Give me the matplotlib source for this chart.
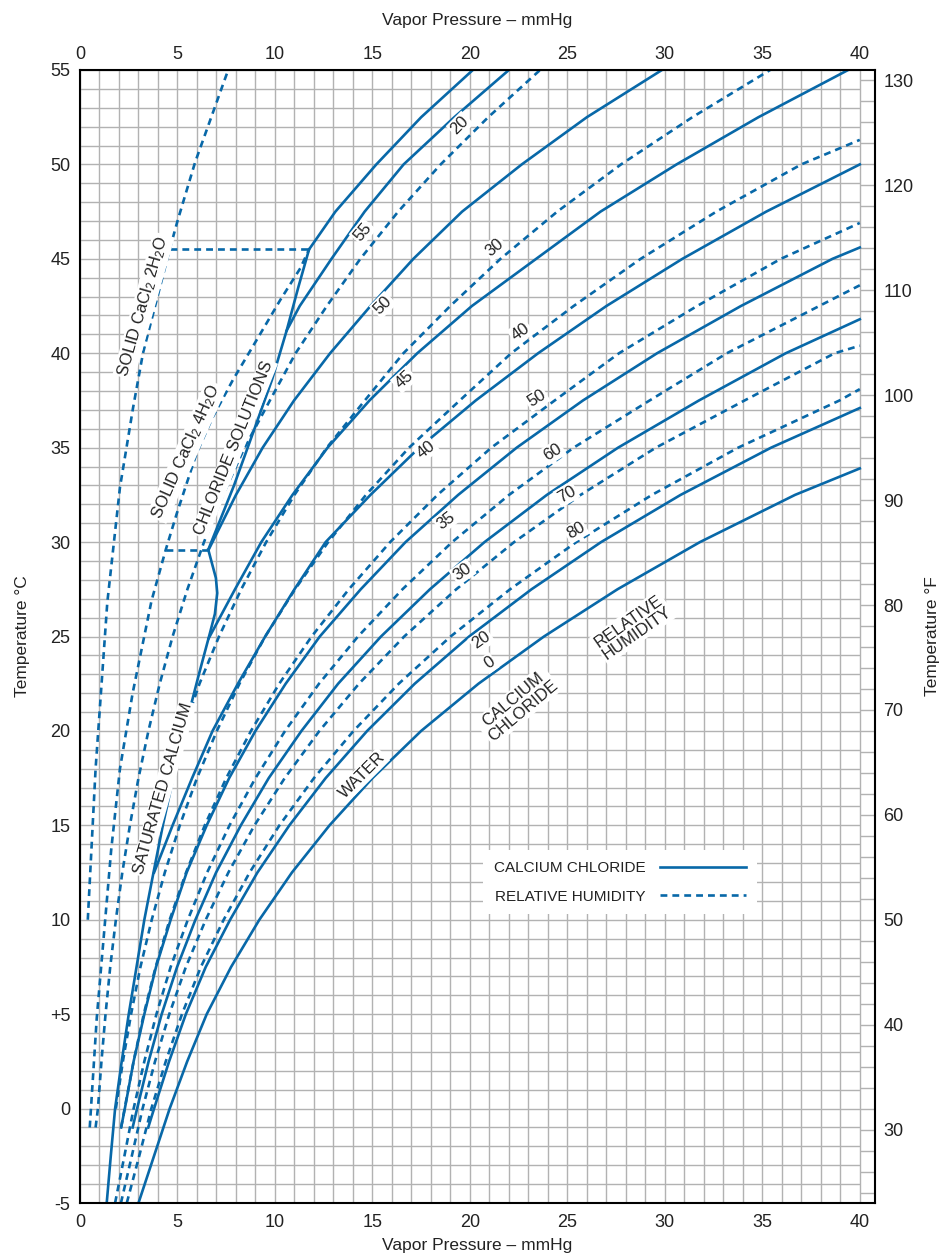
import numpy as np
import matplotlib.pyplot as plt
from matplotlib.lines import Line2D

plt.rcParams['font.family'] = ['Liberation Sans', 'DejaVu Sans']
plt.rcParams['mathtext.fontset'] = 'custom'
plt.rcParams['mathtext.rm'] = 'Liberation Sans'
plt.rcParams['mathtext.it'] = 'Liberation Sans'

BLUE = '#0868a8'
GRID = '#b2b2b2'
DASH = (0, (2.6, 1.9))

# ---- data: (vapor pressure mmHg, temperature C) ----
# water (0 % calcium chloride)
water_T = [-5, -2.5, 0, 2.5, 5, 7.5, 10, 12.5, 15, 17.5, 20, 22.5, 25, 27.5, 30, 32.5, 33.9]
water_P = [3.0, 3.8, 4.6, 5.5, 6.5, 7.75, 9.2, 10.87, 12.8, 15.0, 17.5, 20.44, 23.8, 27.57, 31.8, 36.68, 40.0]

# calcium chloride solutions, by % CaCl2
cc20_T = [-1, 0, 2.5, 5, 7.5, 10, 12.5, 15, 17.5, 20, 22.5, 25, 27.5, 30, 32.5, 35, 37.1]
cc20_P = [3.5, 3.8, 4.57, 5.43, 6.45, 7.7, 9.1, 10.74, 12.6, 14.73, 17.17, 19.96, 23.16, 26.73, 30.81, 35.45, 40.0]
cc30_T = [-1, 0, 2.5, 5, 7.5, 10, 12.5, 15, 17.5, 20, 22.5, 25, 27.5, 30, 32.5, 35, 37.5, 40, 41.8]
cc30_P = [2.7, 2.93, 3.52, 4.19, 4.98, 5.92, 6.98, 8.25, 9.68, 11.36, 13.24, 15.44, 17.95, 20.75, 23.95, 27.6, 31.75, 36.2, 40.0]
cc35_T = [-1, 0, 2.5, 5, 7.5, 10, 12.5, 15, 17.5, 20, 22.5, 25, 27.5, 30, 32.5, 35, 37.5, 40, 42.5, 45, 45.6]
cc35_P = [2.11, 2.3, 2.75, 3.3, 3.9, 4.65, 5.47, 6.5, 7.65, 9.0, 10.55, 12.3, 14.4, 16.7, 19.4, 22.4, 25.8, 29.6, 33.9, 38.6, 40.0]
cc40_T = [12.5, 15, 17.5, 20, 22.5, 25, 27.5, 30, 32.5, 35, 37.5, 40, 42.5, 45, 47.5, 50]
cc40_P = [3.8, 4.75, 5.75, 6.8, 8.1, 9.5, 11.0, 12.6, 14.9, 17.4, 20.3, 23.5, 27.0, 30.9, 35.2, 40.0]
cc45_T = [24.9, 27.5, 30, 32.5, 35, 37.5, 40, 42.5, 45, 47.5, 50, 52.5, 55]
cc45_P = [6.6, 7.95, 9.3, 10.9, 12.7, 14.85, 17.3, 20.1, 23.4, 26.7, 30.6, 34.8, 39.4]
cc50_T = [29.6, 32.5, 35, 37.5, 40, 42.5, 45, 47.5, 50, 52.5, 55]
cc50_P = [6.6, 8.0, 9.37, 10.98, 12.83, 14.9, 17.1, 19.6, 22.66, 26.0, 29.85]
cc55_T = [41.2, 42.5, 45, 47.5, 50, 52.5, 55]
cc55_P = [10.6, 11.27, 12.9, 14.6, 16.6, 19.2, 22.0]

# saturated calcium chloride solutions
sat_low_T = [-5, -2.5, 0, 2.5, 5, 7.5, 10, 12.5, 15, 17.5, 20, 23, 25.2, 26.2, 27.3, 28.1, 29.6]
sat_low_P = [1.37, 1.58, 1.8, 2.14, 2.5, 2.9, 3.3, 3.77, 4.25, 4.78, 5.35, 6.1, 6.67, 6.92, 7.04, 6.97, 6.58]
sat_mid_T = [29.6, 33, 36, 38.6, 41.2, 43.5, 45.5]
sat_mid_P = [6.58, 7.9, 8.95, 9.85, 10.6, 11.2, 11.75]
sat_top_T = [45.5, 47.5, 50, 52.5, 55]
sat_top_P = [11.75, 13.1, 15.2, 17.5, 20.15]

# relative humidity lines, by % RH
rh20_T = [-1, 0, 2.5, 5, 7.5, 10, 12.5, 15, 17.5, 20, 22.5, 25, 27.5, 30, 32.5, 35, 37.5, 40, 42.5, 45, 47.5, 50, 52.5, 55]
rh20_P = [0.8, 0.92, 1.1, 1.31, 1.55, 1.84, 2.17, 2.56, 3.0, 3.51, 4.09, 4.75, 5.51, 6.36, 7.34, 8.44, 9.74, 11.06, 12.66, 14.38, 16.32, 18.5, 20.94, 23.6]
rh30_T = [20, 22.5, 25, 27.5, 30, 32.5, 35, 37.5, 40, 42.5, 45, 47.5, 50, 52.5, 55]
rh30_P = [5.3, 6.13, 7.13, 8.27, 9.55, 11.0, 12.66, 14.61, 16.59, 18.99, 21.57, 24.48, 27.75, 31.41, 35.4]
rh40_T = [0, 2.5, 5, 7.5, 10, 12.5, 15, 17.5, 20, 22.5, 25, 27.5, 30, 32.5, 35, 37.5, 40, 42.5, 45, 47.5, 50, 51.3]
rh40_P = [1.84, 2.2, 2.62, 3.1, 3.68, 4.35, 5.12, 6.0, 7.02, 8.18, 9.5, 11.03, 12.73, 14.67, 16.88, 19.48, 22.12, 25.32, 28.76, 32.64, 37.0, 40.0]
rh50_T = [-1, 0, 2.5, 5, 7.5, 10, 12.5, 15, 17.5, 20, 22.5, 25, 27.5, 30, 32.5, 35, 37.5, 40, 42.5, 45, 46.9]
rh50_P = [2.11, 2.29, 2.75, 3.27, 3.88, 4.6, 5.44, 6.4, 7.5, 8.77, 10.22, 11.88, 13.79, 15.91, 18.34, 21.1, 24.35, 27.65, 31.65, 35.95, 40.0]
rh60_T = [-5, -2.5, 0, 2.5, 5, 7.5, 10, 12.5, 15, 17.5, 20, 22.5, 25, 27.5, 30, 32.5, 35, 37.5, 40, 43.6]
rh60_P = [1.8, 2.28, 2.75, 3.3, 3.92, 4.65, 5.53, 6.52, 7.67, 9.0, 10.52, 12.26, 14.26, 16.54, 19.09, 22.01, 25.32, 29.22, 33.18, 40.0]
rh70_T = [-5, -2.5, 0, 2.5, 5, 7.5, 10, 12.5, 15, 17.5, 20, 22.5, 25, 27.5, 30, 32.5, 35, 37.5, 40, 40.4]
rh70_P = [2.1, 2.66, 3.21, 3.85, 4.58, 5.43, 6.45, 7.61, 8.95, 10.5, 12.28, 14.31, 16.63, 19.3, 22.27, 25.68, 29.54, 34.09, 38.71, 40.0]
rh80_T = [-5, -2.5, 0, 2.5, 5, 7.5, 10, 12.5, 15, 17.5, 20, 22.5, 25, 27.5, 30, 32.5, 35, 37.5, 38.1]
rh80_P = [2.4, 3.04, 3.66, 4.4, 5.23, 6.2, 7.37, 8.7, 10.23, 12.0, 14.03, 16.35, 19.01, 22.06, 25.46, 29.34, 33.76, 38.96, 40.0]

# solid hydrate lines
solid2_T = [10, 18, 26.8, 32.9, 37.1, 40, 43.5, 45.5, 47, 50.1, 55]
solid2_P = [0.4, 0.8, 1.4, 2.05, 2.72, 3.23, 4.1, 4.6, 5.0, 5.9, 7.6]
solid4_T = [-1, 4.8, 13.7, 18, 22, 26.9, 29.6, 31.5, 34.7, 36.6, 38.6, 40.7, 42.8, 44.5, 45.5]
solid4_P = [0.5, 0.86, 1.6, 2.05, 2.7, 3.67, 4.4, 4.96, 5.98, 6.8, 7.85, 9.06, 10.26, 11.3, 11.75]
step45_T = [45.5, 45.5]
step45_P = [4.6, 11.75]
step30_T = [29.6, 29.6]
step30_P = [4.4, 6.58]

solid_lines = [(water_P, water_T), (cc20_P, cc20_T), (cc30_P, cc30_T), (cc35_P, cc35_T),
               (cc40_P, cc40_T), (cc45_P, cc45_T), (cc50_P, cc50_T), (cc55_P, cc55_T),
               (sat_low_P, sat_low_T), (sat_mid_P, sat_mid_T), (sat_top_P, sat_top_T)]
dashed_lines = [(rh20_P, rh20_T), (rh30_P, rh30_T), (rh40_P, rh40_T), (rh50_P, rh50_T),
                (rh60_P, rh60_T), (rh70_P, rh70_T), (rh80_P, rh80_T),
                (solid2_P, solid2_T), (solid4_P, solid4_T),
                (step45_P, step45_T), (step30_P, step30_T)]

fig = plt.figure(figsize=(9.43, 12.58), dpi=100)
ax = fig.add_axes([80/943, 1 - 1203/1258, 795/943, 1133/1258])
XMAX = 40.78
ax.set_xlim(0, XMAX)
ax.set_ylim(-5, 55)

# grid: 1 mmHg x 1 C, plus a 2 F scale strip on the right
ax.vlines(np.arange(0, 41), -5, 55, color=GRID, lw=1.0, zorder=0)
ax.hlines(np.arange(-5, 56), 0, 40, color=GRID, lw=1.0, zorder=0)
f_ticks = np.arange(24, 131, 2)
ax.hlines((f_ticks - 32) * 5 / 9, 40, XMAX, color=GRID, lw=1.0, zorder=0)

for p, t in solid_lines:
    ax.plot(p, t, color=BLUE, lw=1.9, solid_joinstyle='round', zorder=2)
for p, t in dashed_lines:
    ax.plot(p, t, color=BLUE, lw=1.9, linestyle=DASH, zorder=2)

# curve labels
box = dict(facecolor='white', edgecolor='none', pad=1.2)
labels = [
    ('SOLID CaCl$_2$ 2H$_2$O', 3.26, 42.5, 74),
    ('SOLID CaCl$_2$ 4H$_2$O', 5.46, 34.8, 66),
    ('CHLORIDE SOLUTIONS', 7.9, 34.97, 68),
    ('SATURATED CALCIUM', 4.26, 16.95, 74),
    ('WATER', 14.46, 17.64, 45),
    ('CALCIUM\nCHLORIDE', 22.46, 21.35, 40),
    ('RELATIVE\nHUMIDITY', 28.36, 25.48, 35),
    ('20', 19.49, 52.09, 45), ('55', 14.5, 46.43, 50), ('30', 21.28, 45.57, 40),
    ('50', 15.54, 42.55, 45), ('45', 16.62, 38.6, 42), ('40', 22.6, 41.13, 35),
    ('40', 17.74, 34.9, 38), ('50', 23.42, 37.6, 32), ('60', 24.26, 34.76, 32),
    ('35', 18.77, 31.15, 37), ('70', 24.96, 32.53, 30), ('80', 25.44, 30.59, 30),
    ('30', 19.62, 28.41, 35), ('20', 20.6, 24.79, 35), ('0', 20.99, 23.59, 35),
]
for s, x, y, r in labels:
    ax.text(x, y, s, rotation=r, rotation_mode='anchor', ha='center', va='center',
            fontsize=12, color='#222222', linespacing=1.0, bbox=box, zorder=4)

# legend
handles = [Line2D([], [], color=BLUE, lw=1.9, label='CALCIUM CHLORIDE'),
           Line2D([], [], color=BLUE, lw=1.9, linestyle=DASH, label='RELATIVE HUMIDITY')]
leg = ax.legend(handles=handles, loc='center', bbox_to_anchor=(0.679, 0.283),
                markerfirst=False, frameon=True, fancybox=False, framealpha=1,
                edgecolor='none', handlelength=5.6, handletextpad=1.0,
                labelspacing=0.95, borderpad=0.7, prop={'size': 11})
for t in leg.get_texts():
    t.set_color('#222222')
leg.set_zorder(5)

# axes, ticks and labels
for sp in ax.spines.values():
    sp.set_linewidth(1.5)
    sp.set_zorder(6)
ax.set_xticks(range(0, 41, 5))
ax.set_yticks(range(-5, 56, 5))
ax.set_yticklabels(['-5', '0', '+5', '10', '15', '20', '25', '30', '35', '40', '45', '50', '55'])
ax.tick_params(length=0, labelsize=13, colors='#222222')
ax.tick_params(axis='x', pad=8)
ax.tick_params(axis='y', pad=7)
ax.set_xlabel('Vapor Pressure – mmHg', fontsize=12.5, color='#222222', labelpad=5)
ax.set_ylabel('Temperature °C', fontsize=12.5, color='#222222', labelpad=14)

top = ax.secondary_xaxis('top')
top.set_xticks(range(0, 41, 5))
top.tick_params(length=0, labelsize=13, colors='#222222', pad=5)
top.spines['top'].set_visible(False)
top.set_xlabel('Vapor Pressure – mmHg', fontsize=12.5, color='#222222', labelpad=15)

right = ax.secondary_yaxis('right', functions=(lambda c: c * 9 / 5 + 32, lambda f: (f - 32) * 5 / 9))
right.set_yticks(range(30, 131, 10))
right.tick_params(length=0, labelsize=13, colors='#222222', pad=6)
right.spines['right'].set_visible(False)
right.set_ylabel('Temperature °F', fontsize=12.5, color='#222222', labelpad=8)

fig.savefig('out.png', dpi=100, facecolor='white')
